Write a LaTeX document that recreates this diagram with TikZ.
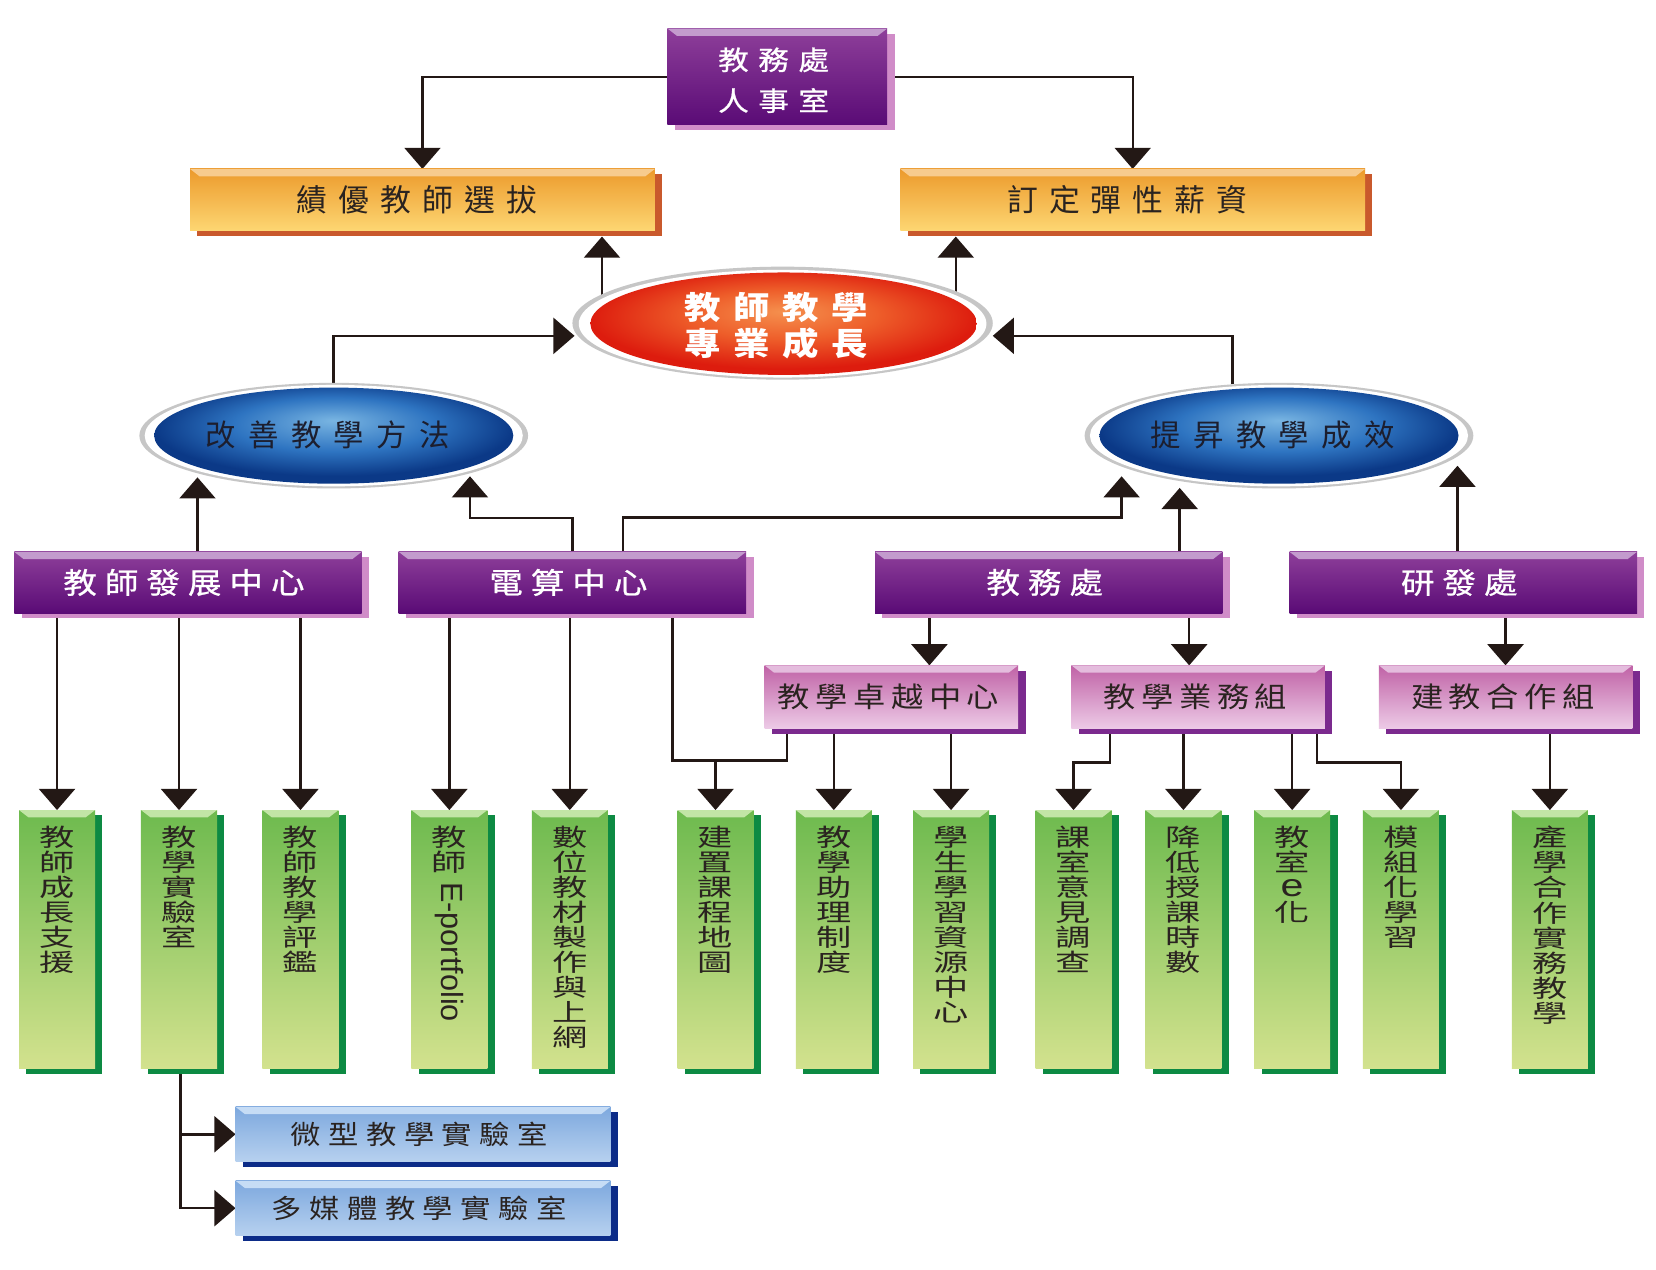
\documentclass[tikz,border=0pt]{standalone}
\usepackage{fontspec}
\setmainfont{Noto Sans CJK TC}
\newfontfamily\fN{Noto Sans CJK TC}
\newfontfamily\fW[FakeStretch=1.15]{Noto Sans CJK TC}
\newfontfamily\fWB[FakeStretch=1.15,FakeBold=0.8]{Noto Sans CJK TC}
\newfontfamily\fV[FakeStretch=1.45]{Noto Sans CJK TC}
\newfontfamily\fL{Liberation Sans}
\newfontfamily\fLs[FakeStretch=1.3]{Liberation Sans}
\usetikzlibrary{arrows.meta,shapes.geometric,shadows,backgrounds,calc}

\definecolor{pTop}{HTML}{8E3F9A}
\definecolor{pBot}{HTML}{5A0B76}
\definecolor{pBev}{HTML}{C39BCD}
\definecolor{pSh}{HTML}{D08CC8}
\definecolor{kTop}{HTML}{C062A6}
\definecolor{kBot}{HTML}{EDCBE7}
\definecolor{kBev}{HTML}{E4BCDD}
\definecolor{kSh}{HTML}{7B2A8E}
\definecolor{oTop}{HTML}{EC9A2C}
\definecolor{oBot}{HTML}{FDD672}
\definecolor{oBev}{HTML}{F7CB8E}
\definecolor{oSh}{HTML}{C9592C}
\definecolor{gTop}{HTML}{6DBA4E}
\definecolor{gBot}{HTML}{D3E28E}
\definecolor{gBev}{HTML}{C2E5A6}
\definecolor{gSh}{HTML}{0D8A43}
\definecolor{bTop}{HTML}{7DA8DE}
\definecolor{bBot}{HTML}{B7D1EF}
\definecolor{bBev}{HTML}{C6DCF5}
\definecolor{bSh}{HTML}{0C2C88}
\definecolor{ringC}{HTML}{C6C6C6}
\definecolor{lineC}{HTML}{231815}
\definecolor{txtC}{HTML}{2A2320}
\definecolor{navyT}{HTML}{1C1E2E}
\definecolor{rL}{HTML}{F5904E}
\definecolor{rM}{HTML}{EE5E2A}
\definecolor{rD}{HTML}{DD1C0E}
\definecolor{bL}{HTML}{79B5E2}
\definecolor{bM}{HTML}{2E74C1}
\definecolor{bD}{HTML}{0B3987}

\pgfdeclareradialshading{redell}{\pgfpoint{0bp}{6bp}}{color(0bp)=(rL); color(12bp)=(rM); color(25bp)=(rD); color(50bp)=(rD)}
\pgfdeclareradialshading{bluell}{\pgfpoint{0bp}{8bp}}{color(0bp)=(bL); color(14bp)=(bM); color(25bp)=(bD); color(50bp)=(bD)}

\makeatletter
\newdimen\sp@gap
\def\sp@stop{\sp@stop}
\def\spaced#1#2{\sp@gap=#1\relax\sp@loop#2\sp@stop\hskip-\sp@gap\relax}
\def\sp@loop#1{\ifx#1\sp@stop\else#1\hskip\sp@gap\relax\expandafter\sp@loop\fi}
\makeatother

\tikzset{
  bx/.style={rectangle, inner sep=0pt, outer sep=0pt, draw=none},
  bev/.style={path picture={\fill[#1] (path picture bounding box.north west) -- (path picture bounding box.north east) -- ([shift={(-4.5pt,-3.5pt)}]path picture bounding box.north east) -- ([shift={(4.5pt,-3.5pt)}]path picture bounding box.north west) -- cycle;}},
  shd/.style={general shadow={shadow xshift=3.5pt, shadow yshift=-2.5pt, fill=#1}},
  pbox/.style={bx, top color=pTop, bottom color=pBot, bev=pBev, shd=pSh, text=white, minimum width=164.5pt, minimum height=29pt, font=\fWB\fontsize{13.8}{15}\selectfont},
  kbox/.style={bx, top color=kTop, bottom color=kBot, bev=kBev, shd=kSh, text=txtC, minimum width=120pt, minimum height=30pt, font=\fW\fontsize{13.3}{14}\selectfont},
  obox/.style={bx, top color=oTop, bottom color=oBot, bev=oBev, shd=oSh, text=txtC, minimum width=220pt, minimum height=29pt, font=\fN\fontsize{14.6}{16}\selectfont},
  gbox/.style={bx, top color=gTop, bottom color=gBot, bev=gBev, shd=gSh, minimum width=36pt, minimum height=122.5pt},
  blbox/.style={bx, top color=bTop, bottom color=bBot, bev=bBev, shd=bSh, text=txtC, minimum width=177.5pt, minimum height=26pt, font=\fW\fontsize{12.5}{13}\selectfont},
  ell/.style={ellipse, inner sep=0pt, outer sep=0pt, draw=none},
  vtxt/.style={inner sep=0pt, anchor=north, align=center, text=txtC, font=\fV\fontsize{11.5}{11.85}\selectfont},
  conn/.style={draw=lineC, line width=1.2pt},
  arr/.style={conn, -{Triangle[width=17pt,length=10pt]}},
}

\begin{document}
\begin{tikzpicture}[x=0.5pt,y=-0.5pt]
\useasboundingbox (0,0) rectangle (1568,1202);

% ---- top box
\node[pbox, minimum width=104pt, minimum height=45.5pt] (top) at (736,72.5) {};
\node[inner sep=0pt, align=center, text=white, font=\fWB\fontsize{12.6}{19.3}\selectfont] (topt) at (737,76) {\spaced{4.5pt}{教務處}\\\spaced{4.5pt}{人事室}};

% ---- orange boxes
\node[obox] (o1) at (400,189) {\spaced{5.2pt}{績優教師選拔}};
\node[obox] (o2) at (1072.5,189) {\spaced{5.2pt}{訂定彈性薪資}};

% ---- central ellipse
\node[ell, fill=ringC, minimum width=199pt, minimum height=53.5pt] (red) at (741,306) {};
\node[ell, fill=white, minimum width=193pt, minimum height=51pt] (redw) at (741,306.5) {};
\node[ell, shading=redell, minimum width=183pt, minimum height=48.5pt] (redi) at (742,306.5) {};
\node[inner sep=0pt, align=center, text=white, font=\fW\bfseries\fontsize{15}{17}\selectfont] (redt) at (741,308) {\spaced{6pt}{教師教學}\\\spaced{6pt}{專業成長}};

% ---- blue ellipses
\node[ell, fill=ringC, minimum width=184pt, minimum height=50pt] (lb) at (316,412.5) {};
\node[ell, fill=white, minimum width=179pt, minimum height=48pt] (lbw) at (316,412.5) {};
\node[ell, shading=bluell, minimum width=170pt, minimum height=45.5pt] (lbi) at (316,412.5) {};
\node[inner sep=0pt, text=navyT, font=\fN\fontsize{14.4}{15}\selectfont] (lbt) at (316,412) {\spaced{5.8pt}{改善教學方法}};

\node[ell, fill=ringC, minimum width=184pt, minimum height=50pt] (rb) at (1211,412.5) {};
\node[ell, fill=white, minimum width=179pt, minimum height=48pt] (rbw) at (1211,412.5) {};
\node[ell, shading=bluell, minimum width=170pt, minimum height=45.5pt] (rbi) at (1211,412.5) {};
\node[inner sep=0pt, text=navyT, font=\fN\fontsize{14.4}{15}\selectfont] (rbt) at (1211,412) {\spaced{5.8pt}{提昇教學成效}};

% ---- purple headers
\node[pbox] (A) at (178,551.5) {\spaced{3.8pt}{教師發展中心}};
\node[pbox] (B) at (542,551.5) {\spaced{3.8pt}{電算中心}};
\node[pbox] (C) at (993,551.5) {\spaced{3.8pt}{教務處}};
\node[pbox] (D) at (1385.5,551.5) {\spaced{3.8pt}{研發處}};

% ---- pink boxes
\node[kbox] (E) at (844,660) {\spaced{2.6pt}{教學卓越中心}};
\node[kbox] (F) at (1134.5,660) {\spaced{2.6pt}{教學業務組}};
\node[kbox] (G) at (1425.5,660) {\spaced{2.6pt}{建教合作組}};

% ---- green boxes
\node[gbox] (g1) at (54,889.5) {};
\node[gbox] (g2) at (169.5,889.5) {};
\node[gbox] (g3) at (284.5,889.5) {};
\node[gbox] (g4) at (425.5,889.5) {};
\node[gbox] (g5) at (539.5,889.5) {};
\node[gbox] (g6) at (677.5,889.5) {};
\node[gbox] (g7) at (789.5,889.5) {};
\node[gbox] (g8) at (900.5,889.5) {};
\node[gbox] (g9) at (1016.5,889.5) {};
\node[gbox] (g10) at (1120.5,889.5) {};
\node[gbox] (g11) at (1223.5,889.5) {};
\node[gbox] (g12) at (1326.5,889.5) {};
\node[gbox] (g13) at (1467.5,889.5) {};

\node[vtxt] (t1) at ([yshift=-7.5pt]g1.north) {教\\師\\成\\長\\支\\援};
\node[vtxt] (t2) at ([yshift=-7.5pt]g2.north) {教\\學\\實\\驗\\室};
\node[vtxt] (t3) at ([yshift=-7.5pt]g3.north) {教\\師\\教\\學\\評\\鑑};
\node[vtxt] (t4) at ([yshift=-7.5pt]g4.north) {教\\師};
\node[rotate=-90, anchor=west, inner sep=0pt, text=txtC, font=\fL\fontsize{14.5}{14.5}\selectfont] (t4e) at ([yshift=-34pt]g4.north) {E-portfolio};
\node[vtxt] (t5) at ([yshift=-7.5pt]g5.north) {數\\位\\教\\材\\製\\作\\與\\上\\網};
\node[vtxt] (t6) at ([yshift=-7.5pt]g6.north) {建\\置\\課\\程\\地\\圖};
\node[vtxt] (t7) at ([yshift=-7.5pt]g7.north) {教\\學\\助\\理\\制\\度};
\node[vtxt] (t8) at ([yshift=-7.5pt]g8.north) {學\\生\\學\\習\\資\\源\\中\\心};
\node[vtxt] (t9) at ([yshift=-7.5pt]g9.north) {課\\室\\意\\見\\調\\查};
\node[vtxt] (t10) at ([yshift=-7.5pt]g10.north) {降\\低\\授\\課\\時\\數};
\node[vtxt] (t11) at ([yshift=-7.5pt]g11.north) {教\\室\\{\fLs\fontsize{15}{11.85}\selectfont e}\\化};
\node[vtxt] (t12) at ([yshift=-7.5pt]g12.north) {模\\組\\化\\學\\習};
\node[vtxt] (t13) at ([yshift=-7.5pt]g13.north) {產\\學\\合\\作\\實\\務\\教\\學};

% ---- blue boxes
\node[blbox] (b1) at (400.5,1074) {\spaced{3.5pt}{微型教學實驗室}};
\node[blbox] (b2) at (400.5,1144) {\spaced{3.5pt}{多媒體教學實驗室}};

% ---- connectors
\coordinate (ra) at (570,282);  \coordinate (oa) at (570,224);
\coordinate (rbs) at (905,282); \coordinate (ob) at (905,224);
\coordinate (lt) at (544,318);
\coordinate (rs) at (1167,364); \coordinate (rt) at (940,318);
\coordinate (aT) at (187,452);
\coordinate (bT1) at (445,451);
\coordinate (bS2) at (590,522); \coordinate (bT2) at (1062,451);
\coordinate (cT) at (1117,462);
\coordinate (dT) at (1380,441);
\coordinate (ce) at (880,600);
\coordinate (cf) at (1126,600);
\coordinate (b6) at (637,580); \coordinate (e6) at (745,690); \coordinate (j6) at (679,720);
\coordinate (f9) at (1051,690);
\coordinate (f12) at (1247,690);

\begin{scope}[on background layer]
\fill[white] (0,0) rectangle (1568,1202);
\draw[arr, line width=1pt] (top.west) -| (o1.north);
\draw[arr, line width=1pt] (top.east) -| (o2.north);
\draw[arr] (ra) -- (oa);
\draw[arr] (rbs) -- (ob);
\draw[arr] (lb.north) |- (lt);
\draw[arr] (rs) |- (rt);
\draw[arr] (A.north -| aT) -- (aT);
\draw[arr] (B.north) -- ++(0,-32) -| (bT1);
\draw[arr] (bS2) -- ++(0,-32) -| (bT2);
\draw[arr] (C.north -| cT) -- (cT);
\draw[arr] (D.north -| dT) -- (dT);
\draw[arr] (C.south -| ce) -- (E.north -| ce);
\draw[arr] (C.south -| cf) -- (F.north -| cf);
\draw[arr] (D.south -| G.north) -- (G.north);
\draw[arr] (A.south -| g1.north) -- (g1.north);
\draw[arr] (A.south -| g2.north) -- (g2.north);
\draw[arr] (A.south -| g3.north) -- (g3.north);
\draw[arr] (B.south -| g4.north) -- (g4.north);
\draw[arr] (B.south -| g5.north) -- (g5.north);
\draw[conn] (b6) |- (e6 |- j6) -- (e6);
\draw[arr] (g6.north |- j6) -- (g6.north);
\draw[arr] (E.south -| g7.north) -- (g7.north);
\draw[arr] (E.south -| g8.north) -- (g8.north);
\draw[arr] (f9) -- ++(0,32) -| (g9.north);
\draw[arr] (F.south -| g10.north) -- (g10.north);
\draw[arr] (F.south -| g11.north) -- (g11.north);
\draw[arr] (f12) -- ++(0,32) -| (g12.north);
\draw[arr] (G.south -| g13.north) -- (g13.north);
\draw[arr] ([xshift=0.75pt]g2.south) |- (b1.west);
\draw[arr] ([xshift=0.75pt]g2.south) |- (b2.west);
\end{scope}
\end{tikzpicture}
\end{document}
